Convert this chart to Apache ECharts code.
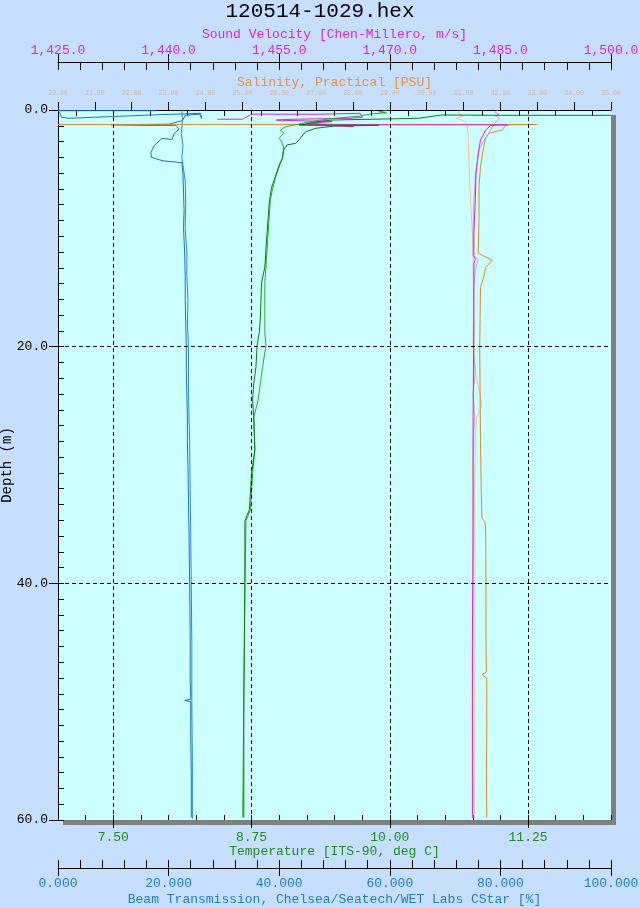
<!DOCTYPE html>
<html><head><meta charset="utf-8">
<script src="https://cdn.jsdelivr.net/npm/echarts@6/dist/echarts.min.js"></script>
<style>html,body{margin:0;padding:0;background:#C6DFFF;}#c{width:640px;height:908px;}</style>
</head><body><div id="c"></div>
<script>
const FONT = 'Liberation Mono';
const TEMPC = '#1E8C1E', BEAMC = '#1E7EBE', SVC = '#E020E0', SALC = '#E8903A', SALLC = '#CDB79E';

// axis ranges and ticks
const tempRange = [7, 12];
const tempTicks = [7.5, 8.75, 10.0, 11.25];
const tempMinorStep = 0.25;
const beamRange = [0, 100];
const beamStep = 20;
const svRange = [1425, 1500];
const svStep = 15;
const salRange = [20, 35];
const salStep = 1;
const salHalfTicks = [20.5,21.5,22.5,23.5,24.5,25.5,26.5,27.5,28.5,29.5,30.5,31.5,32.5,33.5,34.5];
const depthRange = [0, 60];
const depthStep = 20;
const depthMinorStep = 20 / 15;
const depthGrid = [20, 40];

// series: [value, depth(m)]
const beamDown = [[17.7,0.06],[0.0,0.06],[0.4,0.3],[0.6,0.6],[2.0,0.7],[10.0,0.55],[18.0,0.4],[25.8,0.28],[26.0,0.72],[25.6,0.35],[23.0,0.45],[22.5,0.9],[20.0,1.2],[9.6,1.25],[16.0,1.3],[21.3,1.3],[21.9,1.6],[21.0,2.0],[20.6,2.5],[18.8,2.4],[17.4,3.0],[16.8,3.6],[16.9,4.0],[19.0,4.3],[22.4,4.45],[22.6,5.5],[22.7,7.0],[22.8,8.5],[22.7,10.0],[22.9,12.0],[23.0,14.0],[23.0,16.0],[23.1,18.0],[23.2,20.0],[23.2,22.0],[23.3,24.0],[23.4,26.0],[23.4,28.0],[23.5,30.0],[23.6,33.0],[23.7,36.0],[23.8,40.0],[23.9,44.0],[23.9,48.0],[24.0,49.8],[22.9,49.9],[24.0,50.0],[24.0,53.0],[24.1,56.0],[24.1,59.8]];
const beamUp = [[22.4,0.0],[22.5,1.0],[22.3,2.0],[22.6,3.0],[22.4,4.0],[22.7,5.0],[23.0,6.0],[23.1,8.0],[23.0,10.0],[23.3,12.0],[23.3,14.0],[23.5,16.0],[23.4,18.0],[23.6,20.0],[23.6,24.0],[23.8,28.0],[23.9,32.0],[24.0,36.0],[24.1,40.0],[24.2,45.0],[24.2,50.0],[24.3,55.0],[24.3,59.9]];
const tempDown = [[12.0,0.45],[11.0,0.45],[10.47,0.42],[10.26,0.7],[9.48,0.85],[9.39,0.93],[9.18,1.27],[9.6,1.28],[9.9,1.3],[9.5,1.35],[9.33,1.55],[9.24,1.83],[9.19,2.39],[9.15,2.81],[9.07,2.96],[9.04,3.38],[9.03,4.06],[9.0,4.65],[8.97,5.49],[8.93,6.59],[8.91,7.86],[8.89,10.4],[8.87,13.3],[8.84,14.6],[8.83,17.5],[8.82,18.8],[8.80,19.9],[8.79,21.7],[8.77,23.1],[8.76,24.5],[8.77,26.0],[8.78,28.7],[8.75,30.7],[8.73,33.8],[8.69,34.7],[8.69,40.0],[8.68,49.9],[8.68,59.8]];
const tempUp = [[9.97,0.05],[9.9,0.15],[9.97,0.25],[9.85,0.3],[9.7,0.55],[9.5,0.7],[9.3,0.95],[9.2,1.15],[9.06,1.41],[9.01,1.69],[9.04,1.97],[9.0,2.39],[9.03,2.81],[9.04,3.21],[9.03,4.06],[9.0,4.8],[8.97,5.6],[8.94,6.7],[8.92,7.6],[8.90,10.4],[8.88,13.3],[8.87,14.6],[8.87,17.5],[8.87,18.8],[8.88,19.9],[8.85,21.7],[8.83,23.1],[8.81,24.5],[8.77,26.0],[8.78,28.7],[8.76,30.7],[8.74,33.8],[8.70,34.7],[8.69,40.0],[8.68,50.0],[8.67,59.8]];
const svDown = [[1446.6,0.78],[1450.0,0.78],[1450.9,0.48],[1451.3,0.35],[1460.0,0.36],[1466.0,0.28],[1466.3,0.62],[1464.6,0.7],[1456.9,0.78],[1454.6,0.85],[1462.2,0.99],[1459.0,1.1],[1465.1,1.4],[1457.7,1.25],[1473.4,1.25],[1486.0,1.25],[1483.7,1.3],[1483.0,1.69],[1482.3,2.54],[1482.0,3.66],[1481.7,5.35],[1481.6,7.6],[1481.4,10.4],[1481.4,12.4],[1481.6,12.6],[1481.4,13.0],[1481.4,17.5],[1481.3,25.9],[1481.3,35.0],[1481.2,45.0],[1481.2,50.0],[1481.2,59.8]];
const svUp = [[1484.6,0.05],[1484.2,0.2],[1484.8,0.35],[1484.3,0.5],[1484.9,0.7],[1484.4,1.0],[1484.1,1.27],[1483.7,1.69],[1482.8,2.5],[1482.1,3.38],[1481.65,5.3],[1481.4,7.6],[1481.3,10.0],[1481.3,12.3],[1482.0,12.6],[1481.6,13.5],[1481.4,15.0],[1481.3,20.0],[1481.6,22.0],[1481.3,24.0],[1481.5,26.0],[1481.3,28.0],[1481.3,40.0],[1481.2,50.0],[1481.3,59.8]];
const salDown = [[20.0,1.22],[33.0,1.22],[32.3,1.25],[32.14,1.3],[32.05,1.69],[31.69,1.97],[31.60,2.39],[31.53,3.38],[31.46,4.79],[31.42,6.48],[31.42,9.0],[31.40,12.1],[31.78,12.7],[31.60,13.3],[31.55,14.1],[31.46,15.0],[31.45,17.5],[31.44,20.0],[31.45,24.0],[31.46,28.0],[31.48,32.0],[31.50,34.5],[31.58,34.8],[31.60,35.5],[31.61,40.0],[31.61,45.0],[31.62,47.5],[31.50,47.7],[31.63,48.0],[31.63,52.0],[31.62,56.0],[31.63,59.8]];
const salUp = [[30.9,0.05],[30.85,0.3],[31.0,0.5],[30.8,0.7],[31.0,0.9],[31.1,1.27],[31.12,1.9],[31.15,4.8],[31.19,7.6],[31.24,10.4],[31.26,13.0],[31.27,16.0],[31.3,19.0],[31.3,22.0],[31.45,24.0],[31.5,25.0],[31.35,26.0],[31.32,28.0],[31.3,32.0],[31.31,40.0],[31.3,50.0],[31.3,59.8]];

const tickLine = {color:'#000', width:1};
function txt(color, size){ return {color, fontFamily:FONT, fontSize:size}; }
function line(name, data, xi, color, z) {
  return {name, type:'line', data, xAxisIndex:xi, yAxisIndex:0, symbol:'none', showSymbol:false,
    lineStyle:{color, width:1}, itemStyle:{color}, animation:false, z:z||2, clip:true, silent:true};
}
const svFmt = v => v.toLocaleString('en-US',{minimumFractionDigits:1,maximumFractionDigits:1});

const chart = echarts.init(document.getElementById('c'), null, {renderer:'canvas'});
const tempSeries = line('Temperature', tempDown, 0, '#107A10', 3);
tempSeries.markLine = {
  silent:true, symbol:['none','none'], label:{show:false}, animation:false,
  lineStyle:{type:[4,3], color:'#000', width:1},
  data: tempTicks.map(v=>({xAxis:v})).concat(depthGrid.map(v=>({yAxis:v})))
};
chart.setOption({
  animation:false,
  backgroundColor:'#C6DFFF',
  textStyle:{fontFamily:FONT},
  title:{text:'120514-1029.hex', left:'center', top:1, padding:0,
    textStyle:{fontFamily:FONT, fontSize:21, fontWeight:'normal', color:'#000'}},
  graphic:[
    {type:'rect', z:-10, z2:0, silent:true, shape:{x:63, y:115, width:553, height:710}, style:{fill:'#7F7F7F'}},
    {type:'rect', z:-10, z2:1, silent:true, shape:{x:58, y:110, width:553, height:710}, style:{fill:'#CCFFFF'}}
  ],
  grid:{left:58, top:110, width:553, height:710, show:false, containLabel:false, outerBoundsMode:'none'},
  xAxis:[
    {type:'value', position:'bottom', min:tempRange[0], max:tempRange[1],
      axisLine:{show:false, onZero:false},
      axisTick:{show:true, inside:false, length:8, customValues:tempTicks, lineStyle:tickLine},
      axisLabel:Object.assign({customValues:tempTicks, formatter:v=>v.toFixed(2), margin:11}, txt(TEMPC,13)),
      splitLine:{show:false},
      name:'Temperature [ITS-90, deg C]', nameLocation:'middle', nameGap:25, nameMoveOverlap:false, nameTextStyle:txt(TEMPC,13)},
    {type:'value', position:'bottom', min:tempRange[0], max:tempRange[1], interval:tempMinorStep,
      axisLine:{show:false, onZero:false}, axisTick:{inside:true, length:5, lineStyle:tickLine},
      axisLabel:{show:false}, splitLine:{show:false}},
    {type:'value', position:'bottom', offset:48, min:beamRange[0], max:beamRange[1], interval:beamStep,
      axisLine:{show:true, onZero:false, lineStyle:tickLine},
      axisTick:{inside:true, length:8, lineStyle:tickLine},
      minorTick:{show:true, splitNumber:5, length:8, lineStyle:tickLine},
      axisLabel:Object.assign({formatter:v=>v.toFixed(3), margin:9, showMinLabel:true, showMaxLabel:true}, txt(BEAMC,13)),
      splitLine:{show:false}, minorSplitLine:{show:false},
      name:'Beam Transmission, Chelsea/Seatech/WET Labs CStar [%]', nameLocation:'middle', nameGap:25, nameMoveOverlap:false, nameTextStyle:txt(BEAMC,13)},
    {type:'value', position:'bottom', offset:48, min:beamRange[0], max:beamRange[1], interval:beamStep,
      axisLine:{show:false, onZero:false}, axisTick:{inside:false, length:8, lineStyle:tickLine},
      axisLabel:{show:false}, splitLine:{show:false}},
    {type:'value', position:'top', offset:48, min:svRange[0], max:svRange[1], interval:svStep,
      axisLine:{show:true, onZero:false, lineStyle:tickLine},
      axisTick:{inside:true, length:8, lineStyle:tickLine},
      minorTick:{show:true, splitNumber:5, length:8, lineStyle:tickLine},
      axisLabel:Object.assign({formatter:svFmt, margin:5, showMinLabel:true, showMaxLabel:true}, txt(SVC,13)),
      splitLine:{show:false}, minorSplitLine:{show:false},
      name:'Sound Velocity [Chen-Millero, m/s]', nameLocation:'middle', nameGap:21, nameMoveOverlap:false, nameTextStyle:txt(SVC,13)},
    {type:'value', position:'top', offset:48, min:svRange[0], max:svRange[1], interval:svStep,
      axisLine:{show:false, onZero:false}, axisTick:{inside:false, length:8, lineStyle:tickLine},
      axisLabel:{show:false}, splitLine:{show:false}},
    {type:'value', position:'top', offset:0, min:salRange[0], max:salRange[1], interval:salStep,
      axisLine:{show:true, onZero:false, lineStyle:tickLine},
      axisTick:{inside:false, length:8, lineStyle:tickLine},
      axisLabel:Object.assign({formatter:v=>v.toFixed(2), margin:13, showMinLabel:true, showMaxLabel:true}, txt(SALLC,6.5)),
      splitLine:{show:false},
      name:'Salinity, Practical [PSU]', nameLocation:'middle', nameGap:21, nameMoveOverlap:false, nameTextStyle:txt(SALC,13)},
    {type:'value', position:'top', offset:0, min:salRange[0], max:salRange[1],
      axisLine:{show:false, onZero:false}, axisTick:{inside:true, length:6, customValues:salHalfTicks, lineStyle:tickLine},
      axisLabel:{show:false}, splitLine:{show:false}}
  ],
  yAxis:[
    {type:'value', position:'left', inverse:true, min:depthRange[0], max:depthRange[1], interval:depthStep,
      axisLine:{show:true, onZero:false, lineStyle:tickLine},
      axisTick:{inside:false, length:9, lineStyle:tickLine},
      axisLabel:Object.assign({formatter:v=>v.toFixed(1), margin:10}, txt('#000',13)),
      splitLine:{show:false},
      name:'Depth (m)', nameLocation:'middle', nameGap:44, nameMoveOverlap:false, nameTextStyle:txt('#000',14)},
    {type:'value', position:'left', inverse:true, min:depthRange[0], max:depthRange[1], interval:depthMinorStep,
      axisLine:{show:false, onZero:false}, axisTick:{inside:true, length:6, lineStyle:tickLine},
      axisLabel:{show:false}, splitLine:{show:false}}
  ],
  series:[
    line('Beam Transmission up', beamUp, 2, '#2A8AD6', 2),
    line('Beam Transmission', beamDown, 2, '#1C74BC', 2),
    line('Salinity up', salUp, 6, '#F2C48E', 2),
    line('Salinity', salDown, 6, '#E0882C', 2),
    line('Sound Velocity up', svUp, 4, '#E48CE4', 2),
    line('Sound Velocity', svDown, 4, '#E01EE0', 3),
    line('Temperature up', tempUp, 0, '#28B028', 3),
    tempSeries
  ]
});
</script></body></html>
